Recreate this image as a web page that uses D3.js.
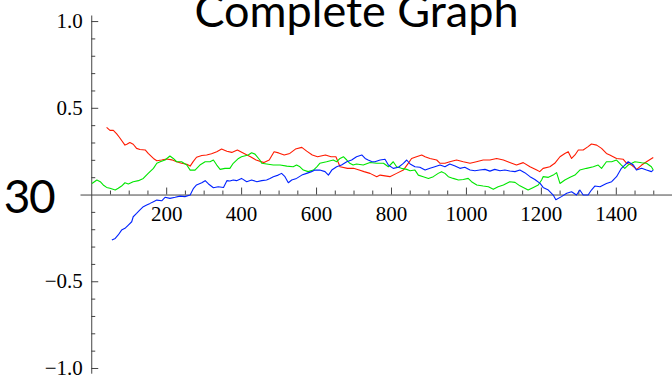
<!DOCTYPE html>
<html>
<head>
<meta charset="utf-8">
<script src="https://cdn.jsdelivr.net/npm/d3@7"></script>
<style>
  html, body { margin: 0; padding: 0; background: #fff; }
  svg { display: block; }
  .tick text { font-family: "Liberation Serif", "Times New Roman", serif; font-size: 21px; fill: #000; }
  .axis path, .axis line { stroke: #444; }
</style>
</head>
<body>
<div id="chart"></div>
<script>
// values: [step, value]
const redSeries = [[41,0.387],[50,0.37],[59,0.37],[68,0.35],[75,0.33],[90,0.285],[95,0.29],[103,0.30],[112,0.29],[121,0.266],[130,0.26],[144,0.257],[152,0.237],[166,0.208],[175,0.195],[188,0.199],[201,0.205],[215,0.20],[228,0.189],[241,0.18],[255,0.175],[264,0.164],[272,0.19],[281,0.215],[295,0.225],[308,0.228],[321,0.235],[335,0.247],[348,0.262],[354,0.257],[362,0.25],[375,0.243],[390,0.257],[408,0.237],[425,0.218],[440,0.199],[461,0.184],[475,0.199],[488,0.247],[500,0.24],[515,0.228],[530,0.237],[545,0.262],[562,0.272],[575,0.25],[590,0.228],[604,0.218],[625,0.228],[640,0.218],[653,0.218],[664,0.16],[684,0.151],[700,0.151],[715,0.141],[728,0.132],[744,0.122],[762,0.103],[771,0.112],[797,0.103],[815,0.122],[833,0.141],[846,0.18],[855,0.208],[868,0.218],[882,0.228],[891,0.218],[904,0.208],[922,0.199],[931,0.18],[944,0.18],[957,0.189],[975,0.199],[993,0.189],[1011,0.18],[1028,0.189],[1046,0.199],[1064,0.199],[1082,0.208],[1100,0.199],[1117,0.185],[1135,0.17],[1153,0.184],[1171,0.16],[1189,0.141],[1197,0.132],[1206,0.151],[1224,0.16],[1237,0.18],[1251,0.218],[1264,0.237],[1273,0.247],[1282,0.208],[1291,0.228],[1300,0.257],[1313,0.257],[1326,0.276],[1335,0.291],[1349,0.285],[1362,0.266],[1375,0.237],[1384,0.228],[1402,0.208],[1420,0.203],[1429,0.18],[1442,0.17],[1456,0.145],[1469,0.17],[1482,0.189],[1500,0.214]];

const greenSeries = [[2,0.064],[15,0.084],[24,0.074],[32,0.055],[41,0.041],[50,0.036],[64,0.026],[72,0.036],[81,0.049],[90,0.068],[99,0.061],[112,0.074],[126,0.08],[139,0.093],[152,0.122],[166,0.151],[175,0.18],[184,0.189],[197,0.199],[210,0.222],[219,0.208],[228,0.189],[241,0.189],[255,0.17],[264,0.141],[277,0.141],[290,0.17],[304,0.189],[317,0.189],[326,0.199],[335,0.17],[344,0.145],[357,0.151],[370,0.151],[379,0.18],[393,0.208],[401,0.218],[419,0.228],[428,0.241],[437,0.233],[450,0.199],[455,0.18],[468,0.176],[486,0.17],[504,0.17],[522,0.164],[539,0.16],[548,0.17],[557,0.16],[566,0.141],[579,0.132],[593,0.141],[602,0.16],[610,0.18],[628,0.189],[646,0.199],[655,0.189],[664,0.208],[673,0.218],[682,0.199],[690,0.18],[699,0.17],[708,0.176],[726,0.17],[744,0.185],[762,0.18],[780,0.18],[793,0.16],[806,0.189],[815,0.16],[828,0.151],[842,0.145],[851,0.137],[864,0.141],[873,0.112],[886,0.103],[900,0.093],[913,0.103],[926,0.122],[935,0.132],[944,0.122],[953,0.103],[966,0.093],[980,0.084],[993,0.087],[1006,0.093],[1015,0.074],[1029,0.055],[1046,0.049],[1060,0.045],[1073,0.03],[1086,0.045],[1100,0.055],[1117,0.074],[1131,0.07],[1144,0.05],[1157,0.036],[1166,0.026],[1180,0.041],[1193,0.055],[1202,0.084],[1206,0.103],[1220,0.099],[1233,0.112],[1242,0.126],[1251,0.064],[1264,0.084],[1278,0.099],[1291,0.112],[1304,0.141],[1322,0.151],[1340,0.16],[1353,0.17],[1362,0.151],[1375,0.189],[1389,0.189],[1402,0.199],[1415,0.17],[1424,0.151],[1433,0.17],[1451,0.189],[1469,0.183],[1482,0.18],[1495,0.16],[1500,0.141]];

const blueSeries = [[55,-0.262],[64,-0.253],[72,-0.233],[81,-0.205],[90,-0.195],[99,-0.176],[108,-0.157],[112,-0.128],[121,-0.109],[130,-0.089],[139,-0.07],[148,-0.06],[157,-0.051],[166,-0.041],[175,-0.032],[188,-0.036],[197,-0.016],[210,-0.022],[224,-0.016],[237,-0.009],[250,-0.012],[264,-0.003],[273,0.036],[281,0.055],[295,0.068],[304,0.08],[313,0.061],[326,0.039],[339,0.045],[353,0.041],[362,0.08],[370,0.078],[379,0.084],[388,0.08],[401,0.093],[415,0.074],[428,0.084],[442,0.074],[455,0.08],[468,0.084],[477,0.093],[486,0.103],[499,0.112],[508,0.122],[517,0.103],[526,0.068],[535,0.084],[548,0.093],[562,0.112],[575,0.122],[588,0.132],[597,0.141],[610,0.141],[624,0.132],[633,0.112],[642,0.141],[655,0.16],[668,0.17],[682,0.189],[695,0.199],[708,0.218],[722,0.228],[731,0.208],[739,0.199],[748,0.19],[757,0.189],[771,0.199],[784,0.203],[793,0.17],[806,0.151],[820,0.157],[833,0.18],[842,0.199],[851,0.176],[864,0.16],[877,0.157],[891,0.141],[904,0.151],[917,0.16],[931,0.17],[944,0.16],[957,0.176],[971,0.164],[984,0.151],[997,0.157],[1011,0.141],[1024,0.137],[1037,0.141],[1051,0.145],[1064,0.135],[1077,0.145],[1091,0.137],[1104,0.141],[1117,0.136],[1131,0.132],[1144,0.141],[1157,0.126],[1171,0.103],[1184,0.087],[1198,0.064],[1206,0.041],[1220,0.026],[1233,-0.003],[1240,-0.03],[1255,-0.012],[1269,0.007],[1282,0.016],[1295,-0.003],[1304,0.026],[1313,-0.003],[1326,-0.003],[1335,0.026],[1344,0.049],[1358,0.045],[1375,0.064],[1389,0.074],[1402,0.103],[1415,0.151],[1424,0.17],[1433,0.189],[1447,0.17],[1455,0.141],[1469,0.151],[1482,0.141],[1495,0.132],[1500,0.141]];

const seriesList = [redSeries, greenSeries, blueSeries];
const seriesColors = ['#ff1a00', '#00e600', '#0022ff'];

const xMajorTicks = [200, 400, 600, 800, 1000, 1200, 1400];
const yMajorTicks = [-1.0, -0.5, 0.5, 1.0];
const titleText = 'Complete Graph';
const sideLabel = '30';

const W = 672, H = 377;

const svg = d3.select('#chart').append('svg')
  .attr('width', W)
  .attr('height', H);

// plot range is a bit wider than the data, like Mathematica's padding
const x = d3.scaleLinear().domain([-30, 1550]).range([80, 672]);
const y = d3.scaleLinear().domain([-1.03, 1.035]).range([373.2, 15]);

const xMinor = d3.range(50, 1551, 50).filter(v => v % 200 !== 0);
const yMinor = d3.range(-9, 10).map(v => v / 10).filter(v => v !== 0 && Math.abs(v) !== 0.5);

// x axis: ticks point up, labels below
svg.append('g')
  .attr('class', 'axis')
  .attr('transform', `translate(0,${y(0)})`)
  .call(d3.axisBottom(x).tickValues(xMinor).tickSize(-4).tickSizeOuter(0).tickFormat(''));
svg.append('g')
  .attr('class', 'axis')
  .attr('transform', `translate(0,${y(0)})`)
  .call(d3.axisBottom(x).tickValues(xMajorTicks).tickSize(-7).tickSizeOuter(0).tickPadding(12).tickFormat(d3.format('d')))
  .call(g => g.select('.domain').remove());

// y axis: ticks point right, labels left
svg.append('g')
  .attr('class', 'axis')
  .attr('transform', `translate(${x(0)},0)`)
  .call(d3.axisLeft(y).tickValues(yMinor).tickSize(-4).tickSizeOuter(0).tickFormat(''));
svg.append('g')
  .attr('class', 'axis')
  .attr('transform', `translate(${x(0)},0)`)
  .call(d3.axisLeft(y).tickValues(yMajorTicks).tickSize(-7).tickSizeOuter(0).tickPadding(8.5).tickFormat(d3.format('.1f')))
  .call(g => g.select('.domain').remove());

svg.selectAll('.axis path, .axis line').attr('stroke', '#444');

// series lines
const line = d3.line()
  .x(d => x(d[0]))
  .y(d => y(d[1]));

svg.selectAll('.series')
  .data(seriesList)
  .enter()
  .append('path')
  .attr('class', 'series')
  .attr('fill', 'none')
  .attr('stroke', (d, i) => seriesColors[i])
  .attr('stroke-width', 1.1)
  .attr('stroke-linejoin', 'round')
  .attr('d', line);

// title, cut off at the top like the reference
svg.append('text')
  .attr('x', 356.5)
  .attr('y', 27)
  .attr('text-anchor', 'middle')
  .style('font-family', 'Lato, "Open Sans", sans-serif')
  .style('font-size', '45px')
  .attr('fill', '#000')
  .text(titleText);

svg.append('text')
  .attr('x', 29)
  .attr('y', 213)
  .attr('text-anchor', 'middle')
  .style('font-family', 'Lato, "Open Sans", sans-serif')
  .style('font-size', '46px')
  .style('letter-spacing', '-1.5px')
  .attr('fill', '#000')
  .text(sideLabel);
</script>
</body>
</html>
